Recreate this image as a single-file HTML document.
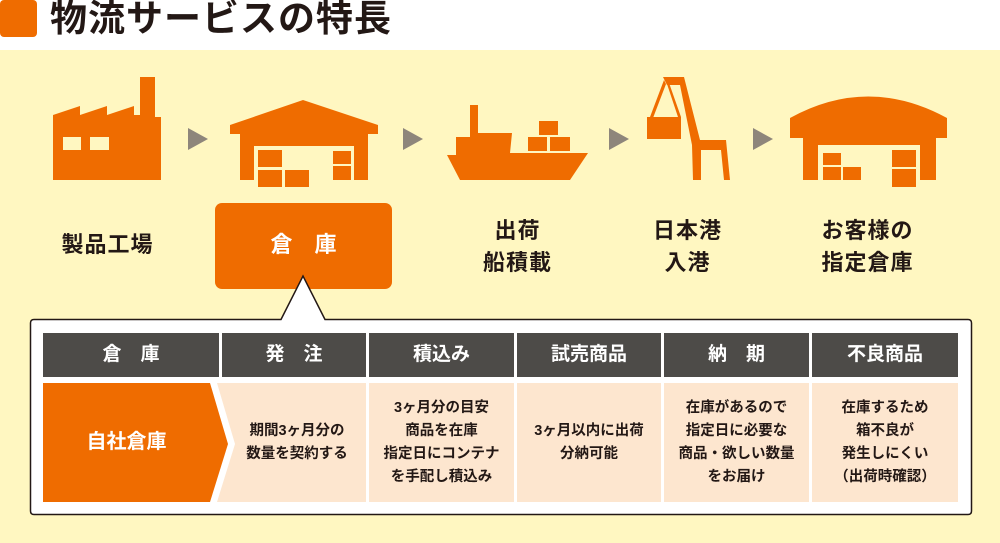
<!DOCTYPE html>
<html><head><meta charset="utf-8"><style>
*{margin:0;padding:0;box-sizing:border-box}
body{width:1000px;height:543px;overflow:hidden;background:#fff;font-family:"Liberation Sans","Noto Sans CJK JP",sans-serif;font-weight:bold;position:relative}
.a{position:absolute}
.lbl{position:absolute;color:#231815;font-size:22px;text-align:center;line-height:32px;letter-spacing:1px}
.hd{position:absolute;top:333px;height:44px;background:#4d4b48;color:#fff;font-size:19px;text-align:center;line-height:44px}
.bd{position:absolute;top:383px;height:119px;background:#fde6cf;color:#231815;font-size:14.5px;text-align:center;line-height:23px;display:flex;align-items:center;justify-content:center}
</style></head><body>
<div class="a" style="left:0;top:0;width:37px;height:37px;background:#ef6c00;border-radius:4px"></div>
<div class="a" style="left:50px;top:0px;font-size:37px;color:#231815;font-weight:bold;letter-spacing:1px;line-height:38px">物流サービスの特長</div>
<div class="a" style="left:0;top:50px;width:1000px;height:493px;background:#fff7c1"></div>
<svg class="a" style="left:0;top:0" width="1000" height="543">
<g fill="#ef6c00">
<path d="M53 115 L80 106 L80 115 L107 106 L107 115 L134 106 L134 115 L140 115 L140 77 L155 77 L155 117 L161 117 L161 180 L53 180Z"/>
<path d="M230 125 L303 100 L378 125 L378 134 L368 134 L368 180 L354 180 L354 146 L254 146 L254 180 L240 180 L240 134 L230 134Z"/>
<rect x="258" y="150" width="24" height="17"/><rect x="258" y="170" width="24" height="17"/><rect x="285" y="170" width="24" height="17"/><rect x="333" y="151" width="18" height="13"/><rect x="333" y="166" width="18" height="14"/>
<path d="M447 155 L456 155 L456 137 L470 137 L470 105 L478 105 L478 133 L512 133 L510 153 L588 153 L570 180 L460 180Z"/>
<rect x="539" y="121" width="19" height="14"/><rect x="528" y="137" width="19" height="14"/><rect x="550" y="137" width="20" height="14"/>
<path d="M663 77 L684 77 L700 140 L726 140 L730 180 L724 180 L721 150 L701 150 L701 180 L693 180 L692 145 L680 85 L667 85Z"/>
<path d="M664 80 L650 117 L653 118 L666 84Z M667 84 L678 117 L681 117 L668 80Z"/>
<rect x="647" y="117" width="34" height="22"/>
<path d="M790 118 Q868 75 947 118 L947 138 L936 138 L936 180 L920 180 L920 145 L818 145 L818 180 L803 180 L803 138 L790 138Z"/>
<rect x="823" y="153" width="18" height="12"/><rect x="823" y="167" width="18" height="13"/><rect x="843" y="167" width="18" height="13"/><rect x="892" y="150" width="24" height="17"/><rect x="892" y="169" width="24" height="18"/>
</g>
<g fill="#fff7c1"><rect x="63" y="137" width="18" height="13"/><rect x="90" y="137" width="19" height="13"/></g>
<g fill="#8e867b">
<path d="M188 128 L208 139 L188 150Z"/><path d="M403 128 L423 139 L403 150Z"/><path d="M609 128 L629 139 L609 150Z"/><path d="M753 128 L773 139 L753 150Z"/>
</g>
<rect x="215" y="203" width="177" height="86" rx="7" fill="#ef6c00"/>
<path d="M30.5 323 Q30.5 319.5 34 319.5 L281 319.5 L303 276 L325 319.5 L968 319.5 Q971.5 319.5 971.5 323 L971.5 511 Q971.5 514.5 968 514.5 L34 514.5 Q30.5 514.5 30.5 511Z" fill="#fff" stroke="#231815" stroke-width="1.5"/>
<path d="M43 383 L210 383 L228 444 L210 502 L43 502Z" fill="#ef6c00"/>
<path d="M217 383 L366 383 L366 502 L217 502 L235 444Z" fill="#fde6cf"/>
</svg>
<div class="lbl" style="left:40px;top:229px;width:135px">製品工場</div>
<div class="a" style="left:215px;top:229px;width:177px;text-align:center;color:#fff;font-size:22px;line-height:32px">倉　庫</div>
<div class="lbl" style="left:450px;top:215px;width:135px">出荷<br>船積載</div>
<div class="lbl" style="left:620px;top:215px;width:135px">日本港<br>入港</div>
<div class="lbl" style="left:800px;top:215px;width:135px">お客様の<br>指定倉庫</div>
<div class="hd" style="left:43px;width:176px">倉　庫</div>
<div class="hd" style="left:222px;width:144px">発　注</div>
<div class="hd" style="left:369px;width:145px">積込み</div>
<div class="hd" style="left:517px;width:144px">試売商品</div>
<div class="hd" style="left:664px;width:145px">納　期</div>
<div class="hd" style="left:812px;width:146px">不良商品</div>
<div class="a" style="left:43px;top:383px;width:167px;height:119px;color:#fff;font-size:20px;line-height:119px;text-align:center">自社倉庫</div>
<div class="bd" style="left:228px;width:138px;background:none">期間3ヶ月分の<br>数量を契約する</div>
<div class="bd" style="left:369px;width:145px">3ヶ月分の目安<br>商品を在庫<br>指定日にコンテナ<br>を手配し積込み</div>
<div class="bd" style="left:517px;width:144px">3ヶ月以内に出荷<br>分納可能</div>
<div class="bd" style="left:664px;width:145px">在庫があるので<br>指定日に必要な<br>商品・欲しい数量<br>をお届け</div>
<div class="bd" style="left:812px;width:146px">在庫するため<br>箱不良が<br>発生しにくい<br>（出荷時確認）</div>
</body></html>
